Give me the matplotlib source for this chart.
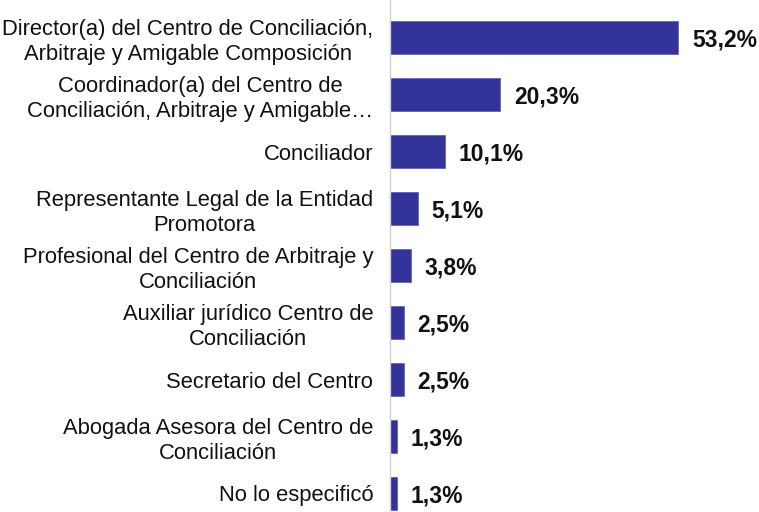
import matplotlib
matplotlib.use("Agg")
import matplotlib.pyplot as plt

categories = [
    "Director(a) del Centro de Conciliación,\nArbitraje y Amigable Composición",
    "Coordinador(a) del Centro de\nConciliación, Arbitraje y Amigable…",
    "Conciliador",
    "Representante Legal de la Entidad\nPromotora",
    "Profesional del Centro de Arbitraje y\nConciliación",
    "Auxiliar jurídico Centro de\nConciliación",
    "Secretario del Centro",
    "Abogada Asesora del Centro de\nConciliación",
    "No lo especificó",
]
values = [53.2, 20.3, 10.1, 5.1, 3.8, 2.5, 2.5, 1.3, 1.3]
value_labels = ["53,2%", "20,3%", "10,1%", "5,1%", "3,8%", "2,5%", "2,5%", "1,3%", "1,3%"]

plt.rcParams['font.family'] = ['Liberation Sans', 'DejaVu Sans']

W, H = 759, 512
fig = plt.figure(figsize=(W / 100, H / 100), dpi=100)
ax = fig.add_axes([390 / W, 0, (W - 390) / W, 1])

y = list(range(len(categories)))
ax.barh(y, values, height=0.58, color="#333399", edgecolor="#5a5ab8", linewidth=0.5)

ax.set_xlim(0, 53.2 * (W - 390) / 288)
ax.set_ylim(8 + 18.5 / 57, -37.5 / 57)

ax.set_yticks(y)
ax.set_yticklabels(categories, fontsize=15.8, color="#111111", linespacing=1.22)
for lab in ax.get_yticklabels():
    lab.set_horizontalalignment("right")
    lab.set_multialignment("center")
ax.tick_params(axis="y", length=0, pad=12)
ax.tick_params(axis="x", bottom=False, labelbottom=False)

for s in ["top", "right", "bottom"]:
    ax.spines[s].set_visible(False)
ax.spines["left"].set_color("#d0d0d0")
ax.spines["left"].set_linewidth(1.0)

for yi, v, t in zip(y, values, value_labels):
    ax.annotate(t, xy=(v, yi), xytext=(10, -2), textcoords="offset points",
                va="center", ha="left", fontsize=16.5, fontweight="bold", color="#111111")

fig.savefig("out.png", dpi=100)
